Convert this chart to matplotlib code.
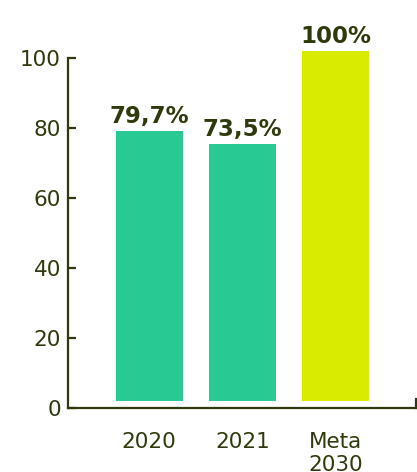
import matplotlib
matplotlib.use("Agg")
import matplotlib.pyplot as plt

# data
categories = ["2020", "2021", "Meta\n2030"]
bar_heights = [77.2, 73.5, 100.0]
bar_labels = ["79,7%", "73,5%", "100%"]
bar_colors = ["#29c993", "#29c993", "#d9ec00"]
yticks = [0, 20, 40, 60, 80, 100]

DARK = "#2e3a0c"
BASE = 2.0  # bars float a little above the axis

fig = plt.figure(figsize=(4.17, 4.72), dpi=100)
ax = fig.add_axes([0.163, 0.1356, 0.835, 0.7414])

x = range(len(categories))
bars = ax.bar(x, bar_heights, bottom=BASE, width=0.72, color=bar_colors, clip_on=False)

for rect, lab in zip(bars, bar_labels):
    ax.text(rect.get_x() + rect.get_width() / 2, rect.get_y() + rect.get_height() + 2.2, lab,
            ha="center", va="baseline", fontsize=16.5, fontweight="bold", color=DARK)

ax.set_xlim(-0.87, 2.86)
ax.set_ylim(0, 100)
ax.set_yticks(yticks)
ax.set_xticks(list(x))
ax.set_xticklabels(categories, linespacing=1.2)

for s in ["top", "right"]:
    ax.spines[s].set_visible(False)
for s in ["left", "bottom"]:
    ax.spines[s].set_color(DARK)
    ax.spines[s].set_linewidth(1.6)

ax.tick_params(axis="y", direction="in", length=6, width=1.6, color=DARK,
               labelsize=15.5, labelcolor=DARK, pad=5)
ax.tick_params(axis="x", length=0, labelsize=15.5, labelcolor=DARK, pad=17)
# small upward tick at the right end of the x axis
ax.axvline(2.86, ymin=0, ymax=0.025, color=DARK, lw=1.6, clip_on=False)

fig.savefig("out.png", dpi=100)
